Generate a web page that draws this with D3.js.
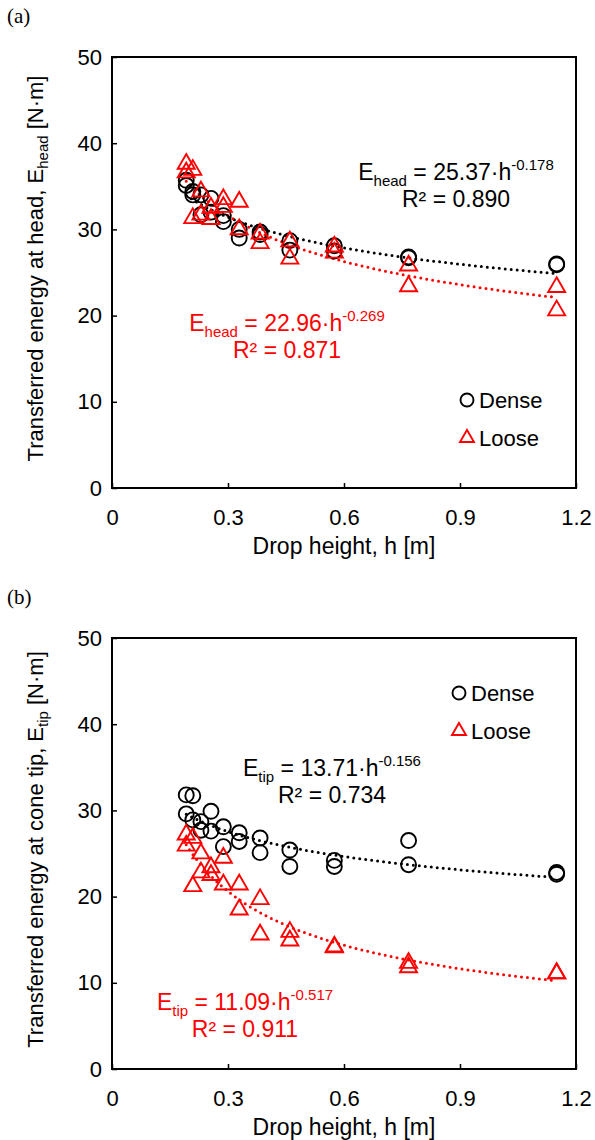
<!DOCTYPE html>
<html>
<head>
<meta charset="utf-8">
<script src="https://cdn.jsdelivr.net/npm/d3@7"></script>
<style>
    body { margin: 0; background: #fff; }
    svg { display: block; font-family: "Liberation Sans", Arial, sans-serif; }
</style>
</head>
<body>
<svg id="chart" width="595" height="1140"></svg>
<script>
// drop heights, two repeats at each height
let heights = [0.192, 0.192, 0.209, 0.209, 0.230, 0.230, 0.256, 0.256, 0.288, 0.288, 0.329, 0.329,
    0.383, 0.383, 0.460, 0.460, 0.575, 0.575, 0.767, 0.767, 1.150, 1.150];

// (a) energy at head
let headDense = [35.7, 35.1, 34.4, 34.0, 34.0, 31.7, 33.6, 32.0, 31.6, 30.9, 30.0, 29.0,
    29.7, 29.4, 28.7, 27.6, 28.1, 27.5, 26.8, 26.7, 26.0, 25.9];
let headLoose = [37.6, 36.6, 36.9, 31.3, 34.4, 31.7, 32.5, 31.2, 33.5, 32.6, 33.2, 30.0,
    29.5, 28.4, 28.6, 26.6, 28.0, 27.3, 25.8, 23.4, 23.3, 20.6];

// (b) energy at cone tip
let tipDense = [31.8, 29.6, 31.7, 28.9, 28.7, 27.7, 29.9, 27.6, 28.1, 25.8, 27.4, 26.4,
    26.8, 25.1, 25.4, 23.5, 24.2, 23.5, 26.5, 23.7, 22.8, 22.6];
let tipLoose = [27.2, 25.9, 26.8, 21.2, 25.0, 22.8, 23.4, 22.5, 24.5, 21.4, 21.4, 18.5,
    19.7, 15.6, 15.9, 14.9, 14.2, 14.1, 12.3, 11.8, 11.1, 11.1];

let xTicks = [0, 0.3, 0.6, 0.9, 1.2];
let yTicks = [0, 10, 20, 30, 40, 50];

let panels = [
    {tag: "(a)", top: 57, dense: headDense, loose: headLoose, sub: "head",
        yTitle: "Transferred energy at head, E", eqDense: ["25.37", "-0.178", "0.890"], eqLoose: ["22.96", "-0.269", "0.871"],
        eqDensePos: [456, 180], eqLoosePos: [287, 331], legendPos: [467, 400]},
    {tag: "(b)", top: 638, dense: tipDense, loose: tipLoose, sub: "tip",
        yTitle: "Transferred energy at cone tip, E", eqDense: ["13.71", "-0.156", "0.734"], eqLoose: ["11.09", "-0.517", "0.911"],
        eqDensePos: [332, 776], eqLoosePos: [245, 1010], legendPos: [459, 693]}
];

let svg = d3.select("#chart");
let plotLeft = 112, plotRight = 576, plotH = 431;
let red = "#ff0000";
let fs = 22;

// power trend as excel does it: least squares on ln-ln
function powerFit(xs, ys) {
    let lx = xs.map(Math.log), ly = ys.map(Math.log);
    let mx = d3.mean(lx), my = d3.mean(ly);
    let b = d3.sum(lx, (v, i) => (v - mx) * (ly[i] - my)) / d3.sum(lx, v => (v - mx) * (v - mx));
    let a = Math.exp(my - b * mx);
    return h => a * Math.pow(h, b);
}

function triPath(s) {
    let r = s / Math.sqrt(3);
    return "M0," + (-r) + "L" + (s / 2) + "," + (r / 2) + "L" + (-s / 2) + "," + (r / 2) + "Z";
}

function drawEquation(g, pos, sub, vals, color) {
    let t = g.append("text").attr("x", pos[0]).attr("y", pos[1]).attr("text-anchor", "middle")
        .attr("font-size", 23).attr("fill", color);
    t.append("tspan").text("E");
    t.append("tspan").attr("font-size", 15).attr("dy", 6).text(sub);
    t.append("tspan").attr("dy", -6).text(" = " + vals[0] + "·h");
    t.append("tspan").attr("font-size", 15).attr("dy", -10).text(vals[1]);
    g.append("text").attr("x", pos[0]).attr("y", pos[1] + 27).attr("text-anchor", "middle")
        .attr("font-size", 23).attr("fill", color).text("R² = " + vals[2]);
}

panels.forEach(function (p) {
    let bottom = p.top + plotH;
    let x = d3.scaleLinear().domain([0, 1.2]).range([plotLeft, plotRight]);
    let y = d3.scaleLinear().domain([0, 50]).range([bottom, p.top]);
    let g = svg.append("g");

    g.append("text").attr("x", 7).attr("y", p.top - 34).attr("font-family", "Liberation Serif, Times New Roman, serif")
        .attr("font-size", 21).text(p.tag);

    g.append("g").attr("transform", "translate(0," + bottom + ")")
        .call(d3.axisBottom(x).tickValues(xTicks).tickFormat(d3.format("")).tickSizeInner(-5).tickSizeOuter(0).tickPadding(21))
        .call(a => a.select(".domain").remove())
        .call(a => a.selectAll("line").attr("stroke-width", 1.5))
        .call(a => a.selectAll("text").attr("font-size", fs).attr("font-family", null).attr("fill", "#000"));

    g.append("g").attr("transform", "translate(" + plotLeft + ",0)")
        .call(d3.axisLeft(y).tickValues(yTicks).tickSizeInner(-5).tickSizeOuter(0).tickPadding(10))
        .call(a => a.select(".domain").remove())
        .call(a => a.selectAll("line").attr("stroke-width", 1.5))
        .call(a => a.selectAll("text").attr("font-size", fs).attr("font-family", null).attr("fill", "#000"));

    g.append("rect").attr("x", plotLeft).attr("y", p.top).attr("width", plotRight - plotLeft).attr("height", plotH)
        .attr("fill", "none").attr("stroke", "#000").attr("stroke-width", 2);

    // axis titles
    g.append("text").attr("x", (plotLeft + plotRight) / 2).attr("y", bottom + 66).attr("text-anchor", "middle")
        .attr("font-size", 23).text("Drop height, h [m]");
    let yt = g.append("text").attr("transform", "translate(43," + (p.top + plotH / 2 - 4) + ") rotate(-90)")
        .attr("text-anchor", "middle").attr("font-size", fs);
    yt.append("tspan").text(p.yTitle);
    yt.append("tspan").attr("font-size", 15).attr("dy", 5).text(p.sub);
    yt.append("tspan").attr("dy", -5).text(" [N·m]");

    // trend lines
    let hs = d3.range(0, 101).map(i => d3.min(heights) + i * (d3.max(heights) - d3.min(heights)) / 100);
    [[p.dense, "#000"], [p.loose, red]].forEach(function (s) {
        let f = powerFit(heights, s[0]);
        g.append("path").datum(hs)
            .attr("d", d3.line().x(h => x(h)).y(h => y(f(h))))
            .attr("fill", "none").attr("stroke", s[1]).attr("stroke-width", 3)
            .attr("stroke-linecap", "round").attr("stroke-dasharray", "0,6");
    });

    g.append("g").selectAll("circle").data(p.dense).enter().append("circle")
        .attr("cx", (d, i) => x(heights[i])).attr("cy", d => y(d)).attr("r", 7.5)
        .attr("fill", "none").attr("stroke", "#000").attr("stroke-width", 1.9);

    g.append("g").selectAll("path").data(p.loose).enter().append("path")
        .attr("transform", (d, i) => "translate(" + x(heights[i]) + "," + y(d) + ")")
        .attr("d", triPath(17)).attr("fill", "none").attr("stroke", red).attr("stroke-width", 1.9);

    drawEquation(g, p.eqDensePos, p.sub, p.eqDense, "#000");
    drawEquation(g, p.eqLoosePos, p.sub, p.eqLoose, red);

    // legend
    let lx = p.legendPos[0], ly = p.legendPos[1];
    g.append("circle").attr("cx", lx).attr("cy", ly).attr("r", 6.5)
        .attr("fill", "none").attr("stroke", "#000").attr("stroke-width", 1.9);
    g.append("path").attr("transform", "translate(" + lx + "," + (ly + 38) + ")").attr("d", triPath(14))
        .attr("fill", "none").attr("stroke", red).attr("stroke-width", 1.9);
    g.append("text").attr("x", lx + 12).attr("y", ly + 8).attr("font-size", fs).text("Dense");
    g.append("text").attr("x", lx + 12).attr("y", ly + 46).attr("font-size", fs).text("Loose");
});
</script>
</body>
</html>
